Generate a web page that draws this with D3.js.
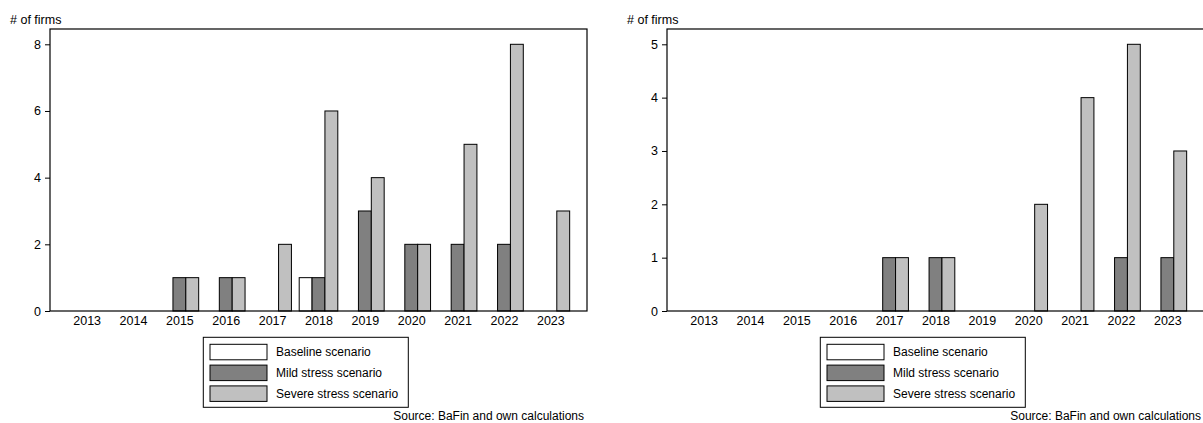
<!DOCTYPE html>
<html>
<head>
<meta charset="utf-8">
<script src="https://cdn.jsdelivr.net/npm/d3@7/dist/d3.min.js"></script>
<style>
  html, body { margin: 0; padding: 0; background: #fff; }
  svg { display: block; font-family: "Liberation Sans", Arial, sans-serif; }
</style>
</head>
<body>
<svg id="chart" width="1203" height="423"></svg>
<script>
// Years on the x axis
const years = ["2013", "2014", "2015", "2016", "2017", "2018", "2019", "2020", "2021", "2022", "2023"];

// Scenario names and fills
const scenarios = ["Baseline scenario", "Mild stress scenario", "Severe stress scenario"];
const scenarioFills = ["#ffffff", "#808080", "#c0c0c0"];

// Left panel: number of firms per year and scenario
const leftBaseline = [0, 0, 0, 0, 0, 1, 0, 0, 0, 0, 0];
const leftMild     = [0, 0, 1, 1, 0, 1, 3, 2, 2, 2, 0];
const leftSevere   = [0, 0, 1, 1, 2, 6, 4, 2, 5, 8, 3];
const leftTicks    = [0, 2, 4, 6, 8];

// Right panel: number of firms per year and scenario
const rightBaseline = [0, 0, 0, 0, 0, 0, 0, 0, 0, 0, 0];
const rightMild     = [0, 0, 0, 0, 1, 1, 0, 0, 0, 1, 1];
const rightSevere   = [0, 0, 0, 0, 1, 1, 0, 2, 4, 5, 3];
const rightTicks    = [0, 1, 2, 3, 4, 5];

const yLabel = "# of firms";
const sourceText = "Source: BaFin and own calculations";

const svg = d3.select("#chart");

function drawPanel(left, series, ticks) {
  const plotW = 537;
  const x0 = left, x1 = left + plotW;
  const yBottom = 311, yTopTick = 44.3, frameTop = 29;

  const g = svg.append("g");

  const x = d3.scalePoint().domain(years).range([x0, x1]).padding(0.79);
  const inner = d3.scaleBand().domain(scenarios).range([-19.3, 19.3]);
  const y = d3.scaleLinear().domain([0, d3.max(ticks)]).range([yBottom, yTopTick]);

  // Bars
  scenarios.forEach((s, si) => {
    const vals = series[si];
    g.append("g")
      .selectAll("rect")
      .data(years.map((yr, i) => ({ yr, v: vals[i] })).filter(d => d.v > 0))
      .join("rect")
      .attr("x", d => x(d.yr) + inner(s))
      .attr("y", d => y(d.v))
      .attr("width", inner.bandwidth())
      .attr("height", d => y(0) - y(d.v))
      .attr("fill", scenarioFills[si])
      .attr("stroke", "#000")
      .attr("stroke-width", 1);
  });

  // Frame
  g.append("rect")
    .attr("x", x0).attr("y", frameTop)
    .attr("width", plotW).attr("height", yBottom - frameTop)
    .attr("fill", "none").attr("stroke", "#000").attr("stroke-width", 1.2);

  // Y axis
  const ya = g.append("g")
    .attr("transform", `translate(${x0},0)`)
    .call(d3.axisLeft(y).tickValues(ticks).tickFormat(d3.format("d")).tickSize(5).tickPadding(4));
  ya.select(".domain").remove();
  ya.selectAll("line").attr("stroke", "#000");
  ya.selectAll("text").attr("font-size", 12.5).attr("fill", "#000").attr("font-family", null);

  // X axis labels
  const xa = g.append("g")
    .attr("transform", `translate(0,${yBottom})`)
    .call(d3.axisBottom(x).tickSize(0).tickPadding(5));
  xa.select(".domain").remove();
  xa.selectAll("text").attr("font-size", 12.5).attr("fill", "#000").attr("font-family", null);

  // Y axis title
  g.append("text")
    .attr("x", left - 40).attr("y", 24)
    .attr("font-size", 12.5).attr("fill", "#000")
    .text(yLabel);

  // Legend
  const lx = left + 153.3, ly = 337.3;
  g.append("rect")
    .attr("x", lx).attr("y", ly).attr("width", 205).attr("height", 70)
    .attr("fill", "#fff").attr("stroke", "#000").attr("stroke-width", 1);
  scenarios.forEach((s, si) => {
    const ry = ly + 7 + si * 20.8;
    g.append("rect")
      .attr("x", lx + 6.7).attr("y", ry)
      .attr("width", 57).attr("height", 15.5)
      .attr("fill", scenarioFills[si]).attr("stroke", "#000").attr("stroke-width", 1);
    g.append("text")
      .attr("x", lx + 72.7).attr("y", ry + 7.75)
      .attr("dy", "0.35em")
      .attr("font-size", 12).attr("fill", "#000")
      .text(s);
  });

  // Source note
  g.append("text")
    .attr("x", left + 534).attr("y", 420)
    .attr("text-anchor", "end")
    .attr("font-size", 12).attr("fill", "#000")
    .text(sourceText);
}

drawPanel(50, [leftBaseline, leftMild, leftSevere], leftTicks);
drawPanel(667, [rightBaseline, rightMild, rightSevere], rightTicks);
</script>
</body>
</html>
